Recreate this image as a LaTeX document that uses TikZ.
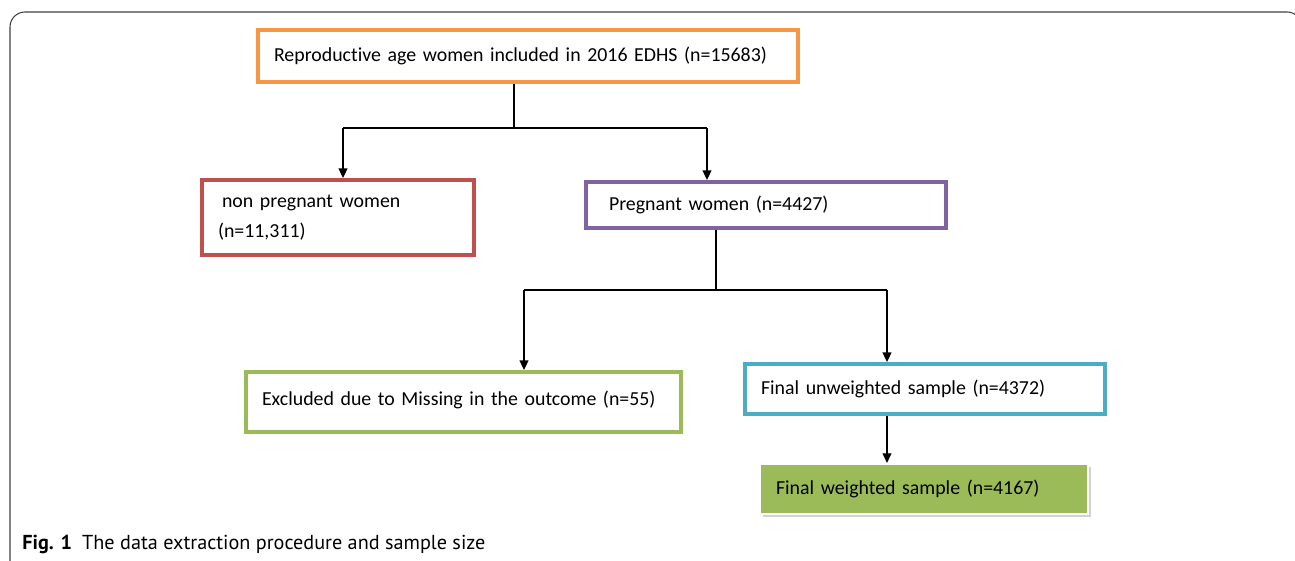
\documentclass[tikz,border=0pt]{standalone}
\usepackage{fontspec}
\setmainfont{Carlito}[Ligatures = NoCommon]
\newfontfamily\capfont{PT Sans}
\usetikzlibrary{arrows.meta, shadows}
\definecolor{boxorange}{HTML}{F79646}
\definecolor{boxred}{HTML}{C0504D}
\definecolor{boxpurple}{HTML}{8064A2}
\definecolor{boxgreen}{HTML}{9BBB59}
\definecolor{boxblue}{HTML}{4BACC6}
\tikzstyle{box} = [rectangle, line width = 2.2pt, inner xsep = 0.32cm, align = left, font = \fontsize{11.3}{13.5}\selectfont]
\tikzstyle{1} = [box, draw = boxorange]
\tikzstyle{2} = [box, draw = boxred]
\tikzstyle{3} = [box, draw = boxpurple]
\tikzstyle{4} = [box, draw = boxgreen]
\tikzstyle{5} = [box, draw = boxblue]
\tikzstyle{6} = [box, draw = white, line width = 1.2pt, fill = boxgreen, drop shadow = {shadow xshift = 0.06cm, shadow yshift = -0.06cm, fill = black!35}]
\tikzstyle{arrow} = [draw, line width = 0.8pt, -{Triangle[width = 5pt, length = 5.5pt]}]
\tikzstyle{line} = [draw, line width = 0.8pt]

\begin{document}
\begin{tikzpicture}[x = 0.02cm, y = -0.02cm]
    \useasboundingbox (0, 0) rectangle (1295, 561);
    \draw[draw = black!75, line width = 0.6pt, rounded corners = 0.3cm] (10, 12) rectangle (1302, 620);

    \node[1, text width = 10.16cm, minimum height = 1.04cm] (11) at (528, 56) {Reproductive age women included in 2016 EDHS (n=15683)};
    \node[2, text width = 4.8cm, minimum height = 1.5cm] (21) at (338, 217.5) {\hspace{0.08cm}non pregnant women\\[0.12cm](n=11,311)};
    \node[3, text width = 6.56cm, minimum height = 0.92cm] (22) at (766, 205) {\hspace{0.14cm}Pregnant women (n=4427)};
    \node[4, text width = 8.06cm, minimum height = 1.2cm] (31) at (463.5, 402) {\raisebox{0.16cm}{Excluded due to Missing in the outcome (n=55)}};
    \node[5, text width = 6.56cm, minimum height = 1.0cm] (32) at (925, 389) {\raisebox{0.06cm}{Final unweighted sample (n=4372)}};
    \node[6, text width = 5.92cm, minimum height = 1.0cm] (41) at (924, 489) {Final weighted sample (n=4167)};

    \coordinate (s1) at (514, 128);
    \coordinate (s1l) at (343, 128);
    \coordinate (s1r) at (707, 128);
    \coordinate (s2) at (716, 290);
    \coordinate (s2l) at (524, 290);
    \coordinate (s2r) at (887, 290);

    \path[line] (s1 |- 11.south) -- (s1);
    \path[line] (s1l) -- (s1r);
    \path[arrow] (s1l) -- (s1l |- 21.north);
    \path[arrow] (s1r) -- (s1r |- 22.north);
    \path[line] (s2 |- 22.south) -- (s2);
    \path[line] (s2l) -- (s2r);
    \path[arrow] (s2l) -- (s2l |- 31.north);
    \path[arrow] (s2r) -- (s2r |- 32.north);
    \path[arrow] (s2r |- 32.south) -- (s2r |- 41.north);

    \node[anchor = base west, font = \capfont\fontsize{11.5}{13}\selectfont, inner sep = 0pt] (cap) at (22, 549) {\textbf{Fig. 1}\hspace{0.5em}The data extraction procedure and sample size};
\end{tikzpicture}
\end{document}
